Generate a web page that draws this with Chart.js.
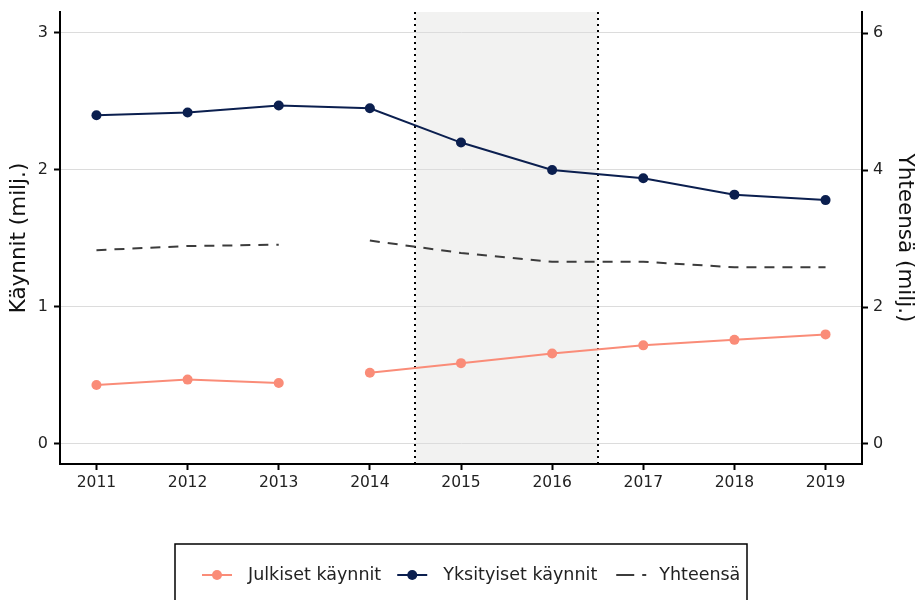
<!DOCTYPE html>
<html>
<head>
<meta charset="utf-8">
<script src="https://cdn.jsdelivr.net/npm/chart.js@4.4.1/dist/chart.umd.min.js"></script>
<style>
  html, body { margin: 0; padding: 0; background: #fff; }
  #wrap { width: 915px; height: 600px; }
</style>
</head>
<body>
<div id="wrap"><canvas id="chart" width="915" height="600"></canvas></div>
<script>
// Data (millions of visits)
const years = [2011, 2012, 2013, 2014, 2015, 2016, 2017, 2018, 2019];
const julkiset = [0.43, 0.47, 0.445, 0.52, 0.59, 0.66, 0.72, 0.76, 0.80];
const yksityiset = [2.40, 2.42, 2.47, 2.45, 2.20, 2.00, 1.94, 1.82, 1.78];
const yhteensa = [2.83, 2.89, 2.91, 2.97, 2.79, 2.66, 2.66, 2.58, 2.58];
const leftTicks = [0, 1, 2, 3];
const rightTicks = [0, 2, 4, 6];
const gapAfterYear = 2013;        // series break between 2013 and 2014
const shadeRange = [2014.5, 2016.5];

const FONT = "'DejaVu Sans', sans-serif";
const colors = {
  julkiset: '#fa8c78',
  yksityiset: '#0b1f4f',
  yhteensa: '#3c3c3c'
};

const toPoints = vals => years.map((yr, i) => ({ x: yr, y: vals[i] }));
const gapSegment = color => ctx => ctx.p0.parsed.x === gapAfterYear ? 'rgba(0,0,0,0)' : color;

// shaded period with dotted borders
const shadePlugin = {
  id: 'shade',
  beforeDraw(chart) {
    const { ctx, chartArea, scales } = chart;
    const x0 = scales.x.getPixelForValue(shadeRange[0]);
    const x1 = scales.x.getPixelForValue(shadeRange[1]);
    ctx.save();
    ctx.fillStyle = '#f2f2f1';
    ctx.fillRect(x0, chartArea.top, x1 - x0, chartArea.bottom - chartArea.top);
    ctx.restore();
  },
  beforeDatasetsDraw(chart) {
    const { ctx, chartArea, scales } = chart;
    ctx.save();
    ctx.strokeStyle = '#000';
    ctx.lineWidth = 2;
    ctx.setLineDash([2, 4]);
    shadeRange.forEach(v => {
      const x = Math.round(scales.x.getPixelForValue(v));
      ctx.beginPath();
      ctx.moveTo(x, chartArea.top);
      ctx.lineTo(x, chartArea.bottom);
      ctx.stroke();
    });
    ctx.restore();
  }
};

// boxed legend under the chart
const boxLegend = {
  id: 'boxLegend',
  afterDraw(chart) {
    const { ctx } = chart;
    const box = { left: 175, top: 544, right: 747 };
    const cy = 575;
    ctx.save();
    ctx.strokeStyle = '#000';
    ctx.lineWidth = 1.5;
    ctx.strokeRect(box.left, box.top, box.right - box.left, 100);
    ctx.font = '17.5px ' + FONT;
    ctx.textBaseline = 'middle';
    let x = 202;
    chart.data.datasets.forEach(ds => {
      ctx.strokeStyle = ds.borderColor;
      ctx.lineWidth = 2;
      ctx.beginPath();
      if (ds.borderDash) {
        ctx.moveTo(x + 3, cy);
        ctx.lineTo(x + 21, cy);
        ctx.moveTo(x + 29, cy);
        ctx.lineTo(x + 33, cy);
      } else {
        ctx.moveTo(x, cy);
        ctx.lineTo(x + 30, cy);
      }
      ctx.stroke();
      if (ds.pointRadius > 0) {
        ctx.fillStyle = ds.pointBackgroundColor;
        ctx.beginPath();
        ctx.arc(x + 15, cy, 5, 0, Math.PI * 2);
        ctx.fill();
      }
      ctx.fillStyle = '#222';
      ctx.fillText(ds.label, x + 46, cy);
      x += 46 + ctx.measureText(ds.label).width + 16;
    });
    ctx.restore();
  }
};

const keepTicks = list => scale => {
  scale.ticks = list.map(v => ({ value: v }));
};
// fixed axis width, no automatic label padding
const fixWidth = w => s => {
  s.width = w;
  s.paddingTop = 0;
  s.paddingBottom = 0;
};

new Chart(document.getElementById('chart'), {
  type: 'line',
  data: {
    datasets: [
      {
        label: 'Julkiset käynnit',
        data: toPoints(julkiset),
        yAxisID: 'y',
        borderColor: colors.julkiset,
        backgroundColor: colors.julkiset,
        pointBackgroundColor: colors.julkiset,
        pointBorderWidth: 0,
        pointRadius: 5,
        borderWidth: 2,
        segment: { borderColor: gapSegment(colors.julkiset) }
      },
      {
        label: 'Yksityiset käynnit',
        data: toPoints(yksityiset),
        yAxisID: 'y',
        borderColor: colors.yksityiset,
        backgroundColor: colors.yksityiset,
        pointBackgroundColor: colors.yksityiset,
        pointBorderWidth: 0,
        pointRadius: 5,
        borderWidth: 2
      },
      {
        label: 'Yhteensä',
        data: toPoints(yhteensa),
        yAxisID: 'y2',
        borderColor: colors.yhteensa,
        backgroundColor: colors.yhteensa,
        borderDash: [10, 8],
        pointRadius: 0,
        borderWidth: 2,
        segment: { borderColor: gapSegment(colors.yhteensa) }
      }
    ]
  },
  options: {
    responsive: false,
    animation: false,
    layout: { padding: { top: 12, bottom: 96, left: 0, right: 0 } },
    plugins: {
      legend: { display: false },
      tooltip: { enabled: false }
    },
    scales: {
      x: {
        type: 'linear',
        min: 2010.6,
        max: 2019.4,
        afterBuildTicks: keepTicks(years),
        afterFit: s => { s.height = 40; s.paddingLeft = 0; s.paddingRight = 0; },
        grid: { drawOnChartArea: false, tickColor: '#000', tickLength: 6, tickWidth: 2 },
        border: { color: '#000', width: 2 },
        ticks: {
          color: '#222',
          font: { family: FONT, size: 15.5 },
          padding: 4,
          callback: v => String(v)
        }
      },
      y: {
        position: 'left',
        min: -0.146,
        max: 3.153,
        afterBuildTicks: keepTicks(leftTicks),
        afterFit: fixWidth(60),
        grid: { color: '#dcdcdc', lineWidth: 1, tickColor: '#000', tickLength: 6, tickWidth: 2 },
        border: { color: '#000', width: 2 },
        ticks: { color: '#222', font: { family: FONT, size: 16 }, padding: 6 },
        title: {
          display: true,
          text: 'Käynnit (milj.)',
          color: '#111',
          font: { family: FONT, size: 21.5, lineHeight: 1 },
          padding: { top: 9, bottom: 0 }
        }
      },
      y2: {
        position: 'right',
        min: -0.292,
        max: 6.307,
        afterBuildTicks: keepTicks(rightTicks),
        afterFit: fixWidth(53),
        grid: { drawOnChartArea: false, tickColor: '#000', tickLength: 6, tickWidth: 2 },
        border: { color: '#000', width: 2 },
        ticks: { color: '#222', font: { family: FONT, size: 16 }, padding: 5 },
        title: {
          display: true,
          text: 'Yhteensä (milj.)',
          color: '#111',
          font: { family: FONT, size: 21.5, lineHeight: 1 },
          padding: { top: 0, bottom: 0 }
        }
      }
    }
  },
  plugins: [shadePlugin, boxLegend]
});
</script>
</body>
</html>
